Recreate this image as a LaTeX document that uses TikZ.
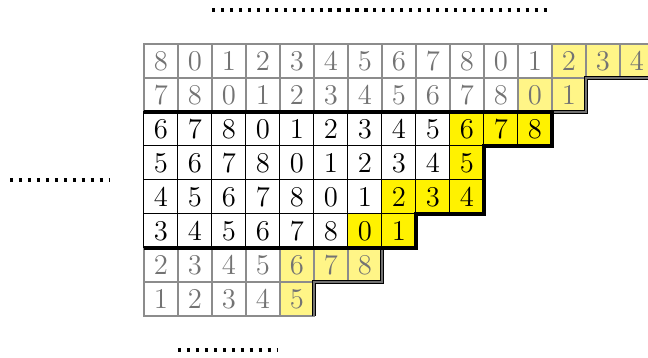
\documentclass[tikz,border=0pt]{standalone}
\usepackage{tikz}

\definecolor{paleyellow}{RGB}{255,245,135}
\tikzset{
  faintnum/.style={text=black!55},
  solidnum/.style={text=black},
  faintgrid/.style={draw=black!45,line width=0.6pt},
  solidgrid/.style={draw=black,line width=0.5pt},
  rimline/.style={line width=1.9pt},
  fadedrim/.style={line width=0.7pt,double=black!55,double distance=0.9pt},
  dotline/.style={line width=1.6pt,dash pattern=on 1.6pt off 2.9pt}
}

\begin{document}
\begin{tikzpicture}[x=0.6cm,y=-0.6cm,font=\Large]
\useasboundingbox (-4.235,-1.294) rectangle (14.824,9.235);
\clip (-4.235,-1.294) rectangle (14.824,9.235);
\foreach \r/\len/\ys in {0/15/12,1/13/11,6/7/4,7/5/4}{
  \fill[paleyellow] (\ys,\r) rectangle (\len,\r+1);
  \foreach \c in {1,...,\len}{
    \pgfmathtruncatemacro\v{mod(\c-\r+7,9)}
    \draw[faintgrid] (\c-1,\r) rectangle (\c,\r+1);
    \node[faintnum] (n\r-\c) at (\c-0.5,\r+0.5) {\v};
  }
}
\foreach \r/\len/\ys in {2/12/9,3/10/9,4/10/7,5/8/6}{
  \fill[yellow] (\ys,\r) rectangle (\len,\r+1);
  \foreach \c in {1,...,\len}{
    \pgfmathtruncatemacro\v{mod(\c-\r+7,9)}
    \draw[solidgrid] (\c-1,\r) rectangle (\c,\r+1);
    \node[solidnum] (n\r-\c) at (\c-0.5,\r+0.5) {\v};
  }
}
\draw[fadedrim] (15,1) -- (13,1) -- (13,2) -- (0,2);
\draw[fadedrim] (0,6) -- (7,6) -- (7,7) -- (5,7) -- (5,8);
\draw[rimline] (0,2) -- (12,2) -- (12,3) -- (10,3) -- (10,5) -- (8,5) -- (8,6) -- (0,6);
\draw[dotline] (2,-1) -- (12,-1);
\draw[dotline] (-3.94,4) -- (-1,4);
\draw[dotline] (1,9) -- (3.94,9);
\end{tikzpicture}
\end{document}
